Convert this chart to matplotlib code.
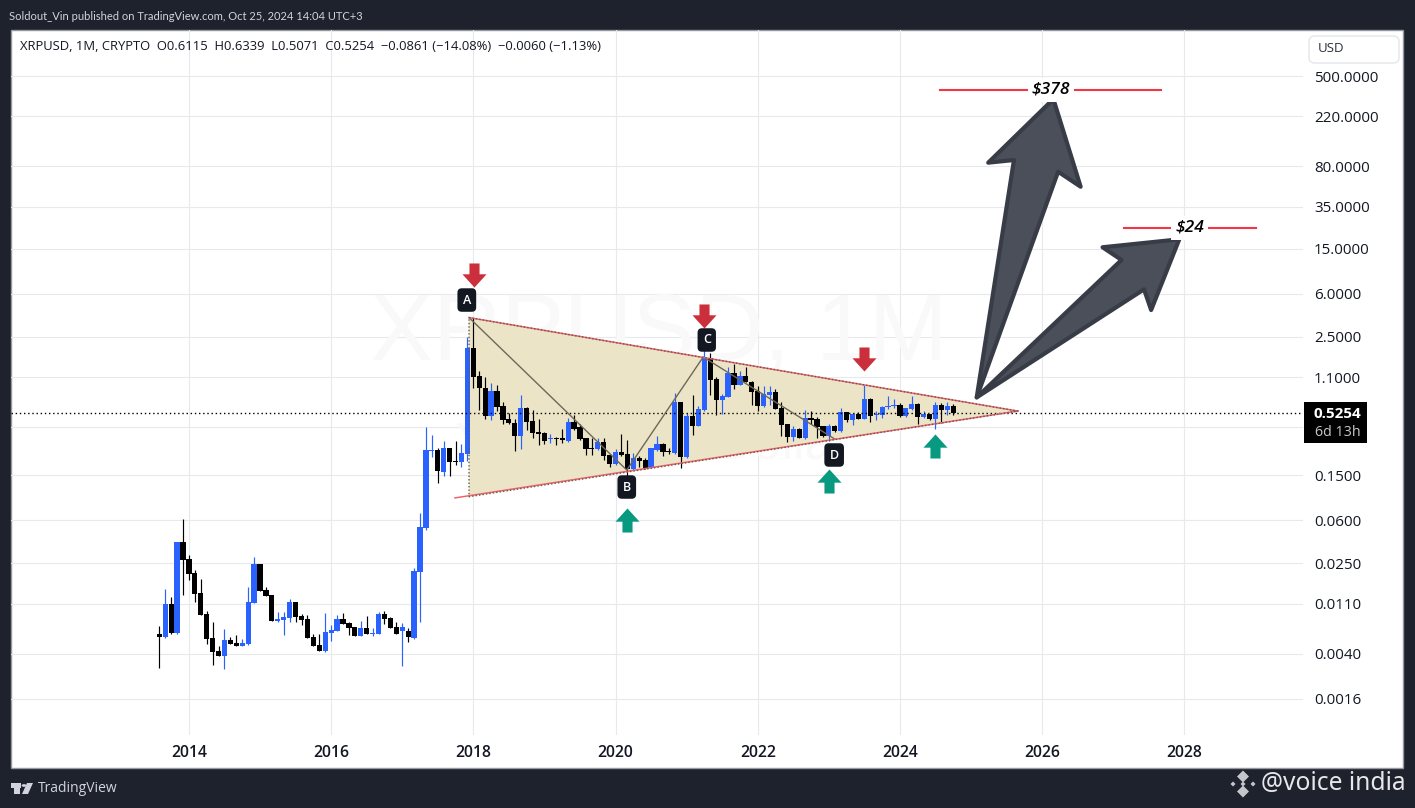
import numpy as np
import matplotlib
matplotlib.use('Agg')
import matplotlib.pyplot as plt
from matplotlib.patches import Rectangle, FancyBboxPatch, Polygon, Circle

W, H = 1415, 808
plt.rcParams['font.family'] = ['Open Sans', 'DejaVu Sans']

# monthly candles, first one is Aug 2013, last one Oct 2024
opens = [.00596, .0056, .01094, .00608, .0386, .0273, .02056, .0137, .00893, .00549,
         .00422, .00381, .00527, .00495, .00467, .00486, .01117, .02468, .01455, .01315,
         .00775, .00791, .00824, .01141, .00859, .00807, .0056, .00476, .00422, .00608,
         .00632, .00807, .00745, .00687, .00572, .00673, .00596, .00596, .00893, .00824,
         .00687, .00632, .00632, .00549, .02099, .0513, .245, .250, .160, .2606,
         .200, .196, .231, 1.99, 1.126, .882, .50, .831, .612, .47,
         .433, .333, .588, .452, .361, .354, .313, .32, .318, .299,
         .442, .40, .32, .261, .256, .293, .226, .1885, .2405, .231,
         .170, .213, .204, .1737, .25, .283, .245, .2355, .664, .217,
         .50, .408, .565, 1.613, 1.06, .691, .736, 1.197, .938, 1.126,
         .996, .83, .612, .765, .813, .5875, .4245, .326, .384, .319,
         .48, .47, .4075, .3326, .4075, .368, .542, .46, .52, .47,
         .705, .509, .509, .60, .612, .624, .499, .575, .637, .49,
         .52, .47, .624, .564, .6115]
highs = [.0070, .01486, .01262, .0386, .0616, .02966, .02185, .0182, .0095, .0076,
         .00467, .00659, .0056, .00584, .00539, .01547, .02844, .02468, .01547, .01315,
         .00931, .00931, .01213, .01141, .00893, .00876, .00596, .00596, .00912, .00714,
         .00876, .00912, .0076, .00687, .00775, .00859, .00673, .00931, .0095, .00841,
         .0076, .00745, .00673, .02275, .0696, .399, .339, .2606, .3005, .2606,
         .3005, .2825, 2.504, 3.636, 1.246, 1.103, .977, .939, .664, .531,
         .47, .765, .60, .565, .47, .361, .347, .326, .383, .48,
         .51, .425, .32, .32, .32, .32, .231, .256, .347, .307,
         .2355, .222, .213, .261, .333, .289, .261, .798, .664, .531,
         .765, .612, 1.976, 1.785, 1.103, .781, 1.353, 1.437, 1.246, 1.352,
         1.017, .919, .919, .919, .864, .663, .4245, .4075, .392, .564,
         .553, .49, .4075, .4245, .416, .5875, .542, .531, .542, .938,
         .72, .553, .612, .75, .705, .65, .5875, .75, .65, .553,
         .52, .663, .65, .663, .6339]
lows = [.00299, .00549, .00596, .00596, .01315, .0178, .01141, .00876, .00486, .00317,
        .00381, .00292, .00486, .00467, .00467, .00476, .01117, .01426, .01288, .00775,
        .0076, .00584, .0076, .0076, .00714, .00549, .00467, .00422, .00413, .00516,
        .00632, .0073, .00584, .00572, .00572, .00596, .00572, .00596, .0073, .00673,
        .00596, .00311, .00506, .00539, .0076, .0492, .217, .128, .1476, .1476,
        .1846, .1784, .2, .882, .565, .47, .461, .553, .425, .425,
        .245, .256, .376, .32, .277, .283, .289, .277, .289, .295,
        .376, .307, .226, .226, .25, .204, .1773, .184, .222, .115,
        .167, .1773, .170, .1737, .245, .222, .231, .231, .1737, .213,
        .34, .408, .553, .765, .51, .521, .736, .864, .938, .996,
        .624, .553, .60, .624, .575, .3326, .2945, .30, .319, .313,
        .4245, .319, .326, .30, .361, .361, .442, .416, .47, .47,
        .442, .46, .48, .575, .5875, .49, .49, .564, .4245, .48,
        .46, .384, .433, .509, .5071]
closes = [.0056, .01094, .00608, .0386, .0268, .02014, .01343, .00876, .00539, .00413,
          .00381, .00527, .00486, .00467, .00495, .01141, .02468, .01426, .01288, .00775,
          .00807, .00841, .01141, .00841, .00791, .00549, .00467, .00422, .00621, .00646,
          .00807, .0073, .00673, .00572, .00673, .00596, .00608, .00893, .00807, .00673,
          .00596, .00687, .0056, .02143, .0523, .250, .250, .1633, .2606, .196,
          .196, .2355, 1.99, 1.103, .882, .50, .831, .60, .461, .433,
          .333, .588, .442, .354, .349, .301, .32, .311, .309, .442,
          .383, .313, .256, .256, .295, .222, .1885, .2405, .226, .170,
          .213, .2, .1737, .261, .283, .2405, .2405, .664, .217, .50,
          .408, .576, 1.647, 1.039, .691, .75, 1.197, .939, 1.126, .996,
          .813, .612, .781, .813, .575, .416, .326, .384, .319, .48,
          .464, .399, .3326, .4075, .3656, .542, .46, .52, .47, .705,
          .499, .52, .60, .612, .624, .499, .5875, .637, .49, .52,
          .47, .624, .564, .612, .5254]

last_price = 0.5254
price_ticks = [500, 220, 80, 35, 15, 6, 2.5, 1.1, 0.15, 0.06, 0.025, 0.011, 0.004, 0.0016]
year_labels = [2014, 2016, 2018, 2020, 2022, 2024, 2026, 2028]
year_ticks = [5, 29, 53, 77, 101, 125, 149, 173]

# drawings, x in candles since Aug 2013, y in USD
triangle_x = [52.27, 144.9, 52.27]
triangle_y = [3.69, 0.552, 0.0968]
low_line_x = [49.9, 144.9]
low_line_y = [0.0945, 0.552]
zigzag_x = [52.27, 78.9, 91.8, 114]
zigzag_y = [3.69, 0.1665, 1.656, 0.3126]
point_names = ['A', 'B', 'C', 'D']
point_x = [51.9, 78.9, 92.4, 113.9]
point_y = [5.27, 0.1179, 2.34, 0.226]
sell_x = [53.03, 92.0, 119.0]
sell_y = [8.76, 3.81, 1.59]
buy_x = [79.0, 112.95, 131.0]
buy_y = [0.0603, 0.133, 0.271]
big_arrow_x = [137.96, 144.25, 139.9, 150.9, 155.5, 151.7]
big_arrow_y = [0.729, 90.7, 85.9, 313, 52.7, 71.5]
small_arrow_x = [137.96, 162.4, 159.2, 172.15, 167.4, 166.2]
small_arrow_y = [0.729, 11.9, 15.4, 18.1, 4.3, 6.55]
target_names = ['\\$378', '\\$24']
target_prices = [378, 22.8]
target_left = [131.8, 162.8]
target_right = [169.05, 185.1]
target_mid = [150.5, 173.9]

BG = '#1e222d'
GRID = '#e8e9ec'
BLUE = '#2962ff'
TEXT = '#131722'


def fx(p):
    return p / W


def fy(p):
    return 1 - p / H


fig = plt.figure(figsize=(W / 100, H / 100), dpi=100, facecolor=BG)
fig.add_artist(Rectangle((fx(11), fy(768)), fx(1392), 738 / H, transform=fig.transFigure,
                         facecolor='white', edgecolor='#9598a1', lw=1, zorder=-5))

ax = fig.add_axes([fx(11), fy(735), 1292 / W, 705 / H])
ax.patch.set_alpha(0)
ax.set_yscale('log')
ax.set_xlim(-25.03, 193.03)
ax.set_ylim(10 ** -3.117, 10 ** 3.105)
for side in ax.spines:
    ax.spines[side].set_visible(False)

for p in price_ticks + [0.4]:
    ax.axhline(p, color=GRID, lw=0.8, zorder=0)
for t in year_ticks:
    ax.axvline(t, color=GRID, lw=0.8, zorder=0)

ax.yaxis.tick_right()
ax.minorticks_off()
ax.set_yticks(price_ticks)
ax.set_yticklabels(['%.4f' % p for p in price_ticks], fontsize=10.9, color=TEXT)
ax.tick_params(axis='y', length=0, pad=8, which='both')
ax.set_xticks(year_ticks)
ax.set_xticklabels(year_labels, fontsize=11.3, color=TEXT, fontweight='semibold')
ax.tick_params(axis='x', length=0, pad=7.5)

# faint symbol watermark
ax.text(fx(659), fy(335), 'XRPUSD, 1M', transform=fig.transFigure, ha='center', va='center',
        fontsize=68, color='#f9f9fa', zorder=0, family='Liberation Sans')
ax.text(fx(652), fy(445), 'XRP / U.S. Dollar', transform=fig.transFigure, ha='center', va='center',
        fontsize=37, color='#f9f9fa', zorder=0, family='Liberation Sans')

ax.fill(triangle_x, triangle_y, color='#ece4c6', lw=0, zorder=1)

x = np.arange(len(opens))
o = np.array(opens)
c = np.array(closes)
colors = [BLUE if c[i] >= o[i] else 'black' for i in x]
ax.vlines(x, lows, highs, colors=colors, lw=0.85, zorder=3)
ax.bar(x, np.abs(c - o), bottom=np.minimum(o, c), width=0.88, color=colors, lw=0, zorder=3)

ax.axhline(last_price, color='black', lw=1, ls=(0, (1, 2)), zorder=4)

ax.plot(zigzag_x, zigzag_y, color='#6f675a', lw=1, zorder=4)
ax.plot(triangle_x[:2], triangle_y[:2], color='#f0636b', lw=1.1, zorder=4)
ax.plot(low_line_x, low_line_y, color='#f0636b', lw=1.1, zorder=4)
ax.plot(triangle_x + triangle_x[:1], triangle_y + triangle_y[:1], color='#5f5c55', lw=1,
        ls=(0, (1, 1.5)), zorder=5)

down_arrow = [(-0.42, 1), (0.42, 1), (0.42, 0.1), (1, 0.1), (0, -1), (-1, 0.1), (-0.42, 0.1)]
up_arrow = [(a, -b) for a, b in down_arrow]
ax.plot(sell_x, sell_y, ls='none', marker=down_arrow, ms=17.3, color='#cc2f3c', mew=0, zorder=6)
ax.plot(buy_x, buy_y, ls='none', marker=up_arrow, ms=17.3, color='#089981', mew=0, zorder=6)

for i in range(4):
    ax.text(point_x[i], point_y[i], point_names[i], color='white', fontsize=9, ha='center', va='center',
            fontweight='semibold', zorder=7,
            bbox=dict(boxstyle='round,pad=0.42,rounding_size=0.35', fc=TEXT, ec='none'))

ax.add_patch(Polygon(np.column_stack([big_arrow_x, big_arrow_y]), closed=True, fc='#4b4f59', ec='#383c47',
                     lw=3, joinstyle='round', zorder=6))
ax.add_patch(Polygon(np.column_stack([small_arrow_x, small_arrow_y]), closed=True, fc='#4b4f59', ec='#383c47',
                     lw=3, joinstyle='round', zorder=6))

for i in range(2):
    ax.plot([target_left[i], target_right[i]], [target_prices[i]] * 2, color='#f23645', lw=1.5, zorder=6)
    ax.text(target_mid[i], target_prices[i], target_names[i], fontsize=12.5, fontstyle='italic', color='black',
            ha='center', va='center', zorder=7, fontweight='semibold',
            bbox=dict(fc='white', ec='none', pad=3))

# header, legend and footer
fig.text(fx(9), fy(17), 'Soldout_Vin published on TradingView.com, Oct 25, 2024 14:04 UTC+3', color='#d1d4dc',
         fontsize=8, va='center', family='Lato')
fig.text(fx(20), fy(47), 'XRPUSD, 1M, CRYPTO  O0.6115  H0.6339  L0.5071  C0.5254  \u22120.0861 (\u221214.08%)  \u22120.0060 (\u22121.13%)',
         color=TEXT, fontsize=9.4, va='center')

fig.add_artist(FancyBboxPatch((fx(1309), fy(63)), 90 / W, 27 / H, transform=fig.transFigure,
                              boxstyle='round,pad=0,rounding_size=0.004', mutation_aspect=W / H,
                              fc='white', ec='#e4e6eb', lw=1))
fig.text(fx(1318), fy(49), 'USD', color='#2a2e39', fontsize=9.5, va='center')

fig.add_artist(Rectangle((fx(1304), fy(443)), 63 / W, 41 / H, transform=fig.transFigure, fc='black', ec='none'))
fig.text(fx(1361), fy(414), '0.5254', color='white', fontsize=11, fontweight='bold', va='center', ha='right')
fig.text(fx(1361), fy(432), '6d 13h', color='#c8c8c8', fontsize=10.3, va='center', ha='right')

# tradingview logo
for patch in [Rectangle((fx(11), fy(788)), 10 / W, 5 / H),
              Rectangle((fx(14), fy(794)), 6 / W, 8 / H),
              Circle((fx(24), fy(785.5)), 2.4 / W),
              Polygon([(fx(27), fy(783)), (fx(33), fy(783)), (fx(28), fy(794)), (fx(22), fy(794))])]:
    patch.set(facecolor='#d1d4dc', edgecolor='none', transform=fig.transFigure)
    fig.add_artist(patch)
fig.text(fx(38), fy(789), 'TradingView', color='#d1d4dc', fontsize=10, va='center')

# diamonds next to the watermark
for dx, dy, r in [(1243, 776.5, 6), (1243, 791.5, 6), (1233, 784, 2.5), (1253, 784, 2.5), (1243, 784, 2.5)]:
    fig.add_artist(Polygon([(fx(dx - r), fy(dy)), (fx(dx), fy(dy - r)), (fx(dx + r), fy(dy)), (fx(dx), fy(dy + r))],
                           transform=fig.transFigure, fc='#c4c6cc', ec='none'))
fig.text(fx(1261), fy(784), '@voice india', color='#e6e7ea', fontsize=17.7, va='center', family='Noto Sans')

fig.savefig('out.png', dpi=100, facecolor=BG)
